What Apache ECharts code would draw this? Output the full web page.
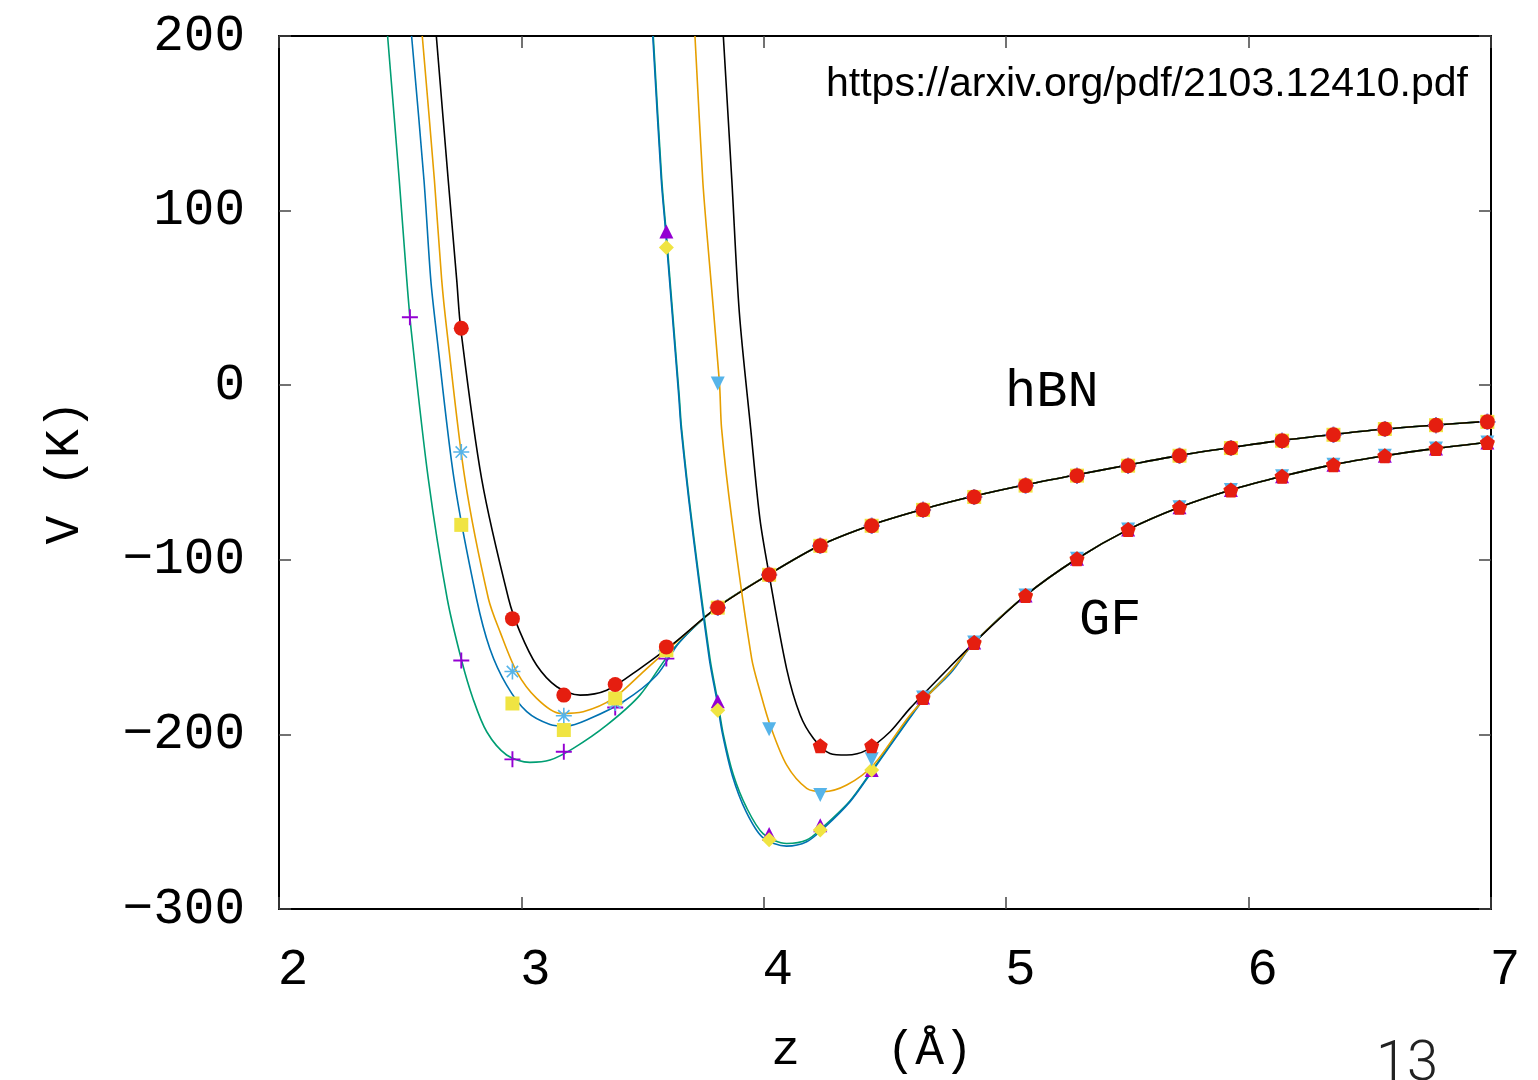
<!DOCTYPE html>
<html>
<head>
<meta charset="utf-8">
<script src="https://cdn.jsdelivr.net/npm/echarts@6/dist/echarts.min.js"></script>
<style>
  html, body { margin: 0; padding: 0; background: #fff; }
  #main { width: 1538px; height: 1080px; }
</style>
</head>
<body>
<div id="main"></div>
<script>
// z positions of the computed points (Å)
var zPts = [2.540, 2.752, 2.963, 3.175, 3.387, 3.598, 3.810, 4.022, 4.233, 4.445, 4.657,
            4.868, 5.080, 5.292, 5.503, 5.715, 5.927, 6.138, 6.350, 6.562, 6.773, 6.985];

// hBN points (K)
var hbnTailPts = [-127.4, -108.6, -92, -80.5, -71.4, -64, -57.5, -51.8, -46.1, -40.4, -36, -31.8, -28.4, -25.1, -22.9, -21];
var hbnPlus   = [38.9, -157.7, -214.3, -209.9, -184.6, -156.6].concat(hbnTailPts);
var hbnStar   = [null, -38.3, -164, -189.3, -182, -152].concat(hbnTailPts);
var hbnSquare = [null, -80, -182.3, -197.5, -179.4, -151.8].concat(hbnTailPts);
var hbnCircle = [null, 32.6, -133.7, -177.5, -171.4, -149.9].concat(hbnTailPts);

// GF points (K)
var gfTailPts = [-178.9, -147.4, -120.4, -99.4, -82.7, -69.9, -60, -52.2, -45.5, -40.4, -36.2, -32.8];
var gfTriUp    = [null, null, null, null, null, 88, -181, -257, -252, -220.4].concat(gfTailPts);
var gfDiamond  = [null, null, null, null, null, 78.9, -186.1, -260.4, -254.7, -220.4].concat(gfTailPts);
var gfTriDown  = [null, null, null, null, null, null, 1, -197.1, -234.7, -214.3].concat(gfTailPts);
var gfPentagon = [null, null, null, null, null, null, null, null, -206.5, -206.5].concat(gfTailPts);

// fitted curves, [z, V]
var hbnTailLine = [[3.81, -127], [4.022, -108.3], [4.233, -91.7], [4.445, -80], [4.657, -71], [4.868, -63.5],
  [5.08, -57], [5.292, -51.3], [5.503, -45.7], [5.715, -40.2], [5.927, -35.7], [6.138, -31.6],
  [6.35, -28.2], [6.562, -25.1], [6.773, -22.8], [7.0, -20.6]];
var hbnGreen = [[2.448, 200], [2.496, 117.7], [2.527, 60.6], [2.545, 32], [2.616, -53.7], [2.694, -122.3],
  [2.754, -158], [2.80, -179.4], [2.857, -198.5], [2.939, -211.8], [3.035, -216], [3.118, -214.7],
  [3.214, -208], [3.352, -194.7], [3.489, -177.5], [3.627, -150.9]];
var hbnBlue = [[2.547, 200], [2.598, 117.7], [2.626, 60.6], [2.648, 32], [2.722, -53.7], [2.815, -122.3],
  [2.870, -150.9], [2.939, -171.8], [3.022, -187], [3.118, -194.3], [3.187, -195.2], [3.283, -190.9],
  [3.420, -181.3], [3.558, -166.1], [3.654, -146.9]];
var hbnOrange = [[2.591, 200], [2.641, 117.7], [2.671, 60.6], [2.692, 32], [2.767, -53.7], [2.864, -122.3],
  [2.912, -141.3], [2.981, -164.2], [3.063, -179.4], [3.160, -188], [3.255, -187], [3.379, -179.4],
  [3.517, -162.3], [3.640, -147]];
var hbnBlack = [[2.649, 200], [2.698, 117.7], [2.733, 60.6], [2.75, 32], [2.836, -53.7], [2.947, -122.3],
  [2.994, -141.3], [3.063, -160.4], [3.146, -172.7], [3.242, -177.5], [3.352, -174.7], [3.489, -162.3],
  [3.627, -148]];

var gfTailLine = [[4.868, -147.4], [5.08, -120.4], [5.292, -99.4], [5.503, -82.7], [5.715, -69.9],
  [5.927, -60], [6.138, -52.2], [6.35, -45.5], [6.562, -40.4], [6.773, -36.2], [7.0, -32.5]];
var gfGreen = [[3.544, 200], [3.579, 117.7], [3.597, 88], [3.651, -6], [3.661, -25], [3.702, -76.6],
  [3.778, -156.6], [3.810, -181], [3.833, -200], [3.874, -223], [3.929, -242], [3.998, -257], [4.094, -262.5],
  [4.177, -260.5], [4.245, -253], [4.356, -238], [4.445, -221], [4.603, -190], [4.657, -180], [4.77, -164]];
var gfBlue = [[3.542, 200], [3.577, 117.7], [3.595, 88], [3.649, -6], [3.659, -25], [3.700, -76.6],
  [3.775, -156.6], [3.807, -181], [3.830, -200], [3.871, -224], [3.926, -244], [3.995, -259], [4.094, -264],
  [4.177, -261.5], [4.245, -254], [4.356, -238.5], [4.445, -221.5], [4.603, -190.5], [4.657, -180.5], [4.77, -165]];
var gfOrange = [[3.716, 200], [3.748, 117.7], [3.764, 89], [3.817, 1.5], [3.826, -25], [3.868, -76.6],
  [3.950, -156.6], [3.985, -175.6], [4.026, -194.7], [4.094, -217.5], [4.177, -230.9], [4.245, -232.8],
  [4.342, -229], [4.452, -217.5], [4.603, -189], [4.77, -164]];
var gfBlack = [[3.833, 200], [3.868, 117.7], [3.899, 41.7], [3.946, -25], [3.984, -76.6], [4.022, -108.5],
  [4.094, -162.3], [4.150, -188.9], [4.205, -202.3], [4.273, -210.9], [4.342, -211.8], [4.424, -209],
  [4.521, -198.5], [4.603, -185.1], [4.77, -161]];

var xTicks = [2, 7, 1];
var yTicks = [-300, 200, 100];

var myChart = echarts.init(document.getElementById('main'));

const mono = 'Liberation Mono';
const symbols = {
  plus: 'path://M-1,-0.12 L1,-0.12 L1,0.12 L-1,0.12 Z M-0.12,-1 L0.12,-1 L0.12,1 L-0.12,1 Z',
  star: 'path://M-1,-0.1 L1,-0.1 L1,0.1 L-1,0.1 Z M-0.1,-1 L0.1,-1 L0.1,1 L-0.1,1 Z ' +
        'M-0.778,-0.636 L-0.636,-0.778 L0.778,0.636 L0.636,0.778 Z ' +
        'M-0.636,0.778 L-0.778,0.636 L0.636,-0.778 L0.778,-0.636 Z',
  pentagon: 'path://M0,-1 L0.951,-0.309 L0.588,0.809 L-0.588,0.809 L-0.951,-0.309 Z'
};

function pts(ys) {
  var out = [];
  for (var i = 0; i < zPts.length; i++) {
    if (ys[i] !== null) out.push([zPts[i], ys[i]]);
  }
  return out;
}

function curve(data, color) {
  return {
    type: 'line', data: data, showSymbol: false, smooth: 0.3, clip: true, z: 2,
    lineStyle: { color: color, width: 1.6 }
  };
}

function marks(data, symbol, size, color, rotate) {
  return {
    type: 'scatter', data: pts(data), symbol: symbol, symbolSize: size,
    symbolRotate: rotate || 0, clip: true, z: 3,
    itemStyle: { color: color, opacity: 1 }
  };
}

function minus(v) { return String(v).replace('-', '\u2212'); }

var option = {
  animation: false,
  backgroundColor: '#fff',
  grid: { left: 279, right: 47, top: 36, bottom: 169 },
  xAxis: [
    {
      type: 'value', min: xTicks[0], max: xTicks[1], interval: xTicks[2],
      name: 'z   (\u00c5)', nameLocation: 'middle', nameGap: 118,
      nameTextStyle: { fontFamily: mono, fontSize: 48, color: '#000', padding: [0, 26, 0, 0] },
      axisLine: { show: true, onZero: false, lineStyle: { color: '#000', width: 2 } },
      axisTick: { inside: true, length: 12, lineStyle: { color: '#444', width: 1.5 } },
      axisLabel: { fontFamily: mono, fontSize: 51, color: '#000', margin: 36, padding: [0, 0, 0, 28] },
      splitLine: { show: false }
    },
    {
      type: 'value', position: 'top', min: xTicks[0], max: xTicks[1], interval: xTicks[2],
      axisLine: { show: true, onZero: false, lineStyle: { color: '#000', width: 2 } },
      axisTick: { inside: true, length: 12, lineStyle: { color: '#444', width: 1.5 } },
      axisLabel: { show: false },
      splitLine: { show: false }
    }
  ],
  yAxis: [
    {
      type: 'value', min: yTicks[0], max: yTicks[1], interval: yTicks[2],
      name: 'V (K)', nameLocation: 'middle', nameGap: 190, nameRotate: 90,
      nameTextStyle: { fontFamily: mono, fontSize: 48, color: '#000' },
      axisLine: { show: true, onZero: false, lineStyle: { color: '#000', width: 2 } },
      axisTick: { inside: true, length: 12, lineStyle: { color: '#444', width: 1.5 } },
      axisLabel: { fontFamily: mono, fontSize: 51, color: '#000', margin: 34, padding: [6, 0, 0, 0], formatter: minus },
      splitLine: { show: false }
    },
    {
      type: 'value', position: 'right', min: yTicks[0], max: yTicks[1], interval: yTicks[2],
      axisLine: { show: true, onZero: false, lineStyle: { color: '#000', width: 2 } },
      axisTick: { inside: true, length: 12, lineStyle: { color: '#444', width: 1.5 } },
      axisLabel: { show: false },
      splitLine: { show: false }
    }
  ],
  graphic: [
    { type: 'text', left: 1005, top: 366, style: { text: 'hBN', fontFamily: mono, fontSize: 52, fill: '#000' } },
    { type: 'text', left: 1079, top: 594, style: { text: 'GF', fontFamily: mono, fontSize: 52, fill: '#000' } },
    { type: 'text', right: 70, top: 64, style: { text: 'https://arxiv.org/pdf/2103.12410.pdf', fontFamily: 'Liberation Sans', fontSize: 41, fill: '#000' } },
    { type: 'text', left: 1376, top: 1038, style: { text: '13', fontFamily: 'Roboto', fontWeight: 300, fontSize: 56, fill: '#222' } }
  ],
  series: [
    curve(hbnGreen.concat(hbnTailLine), '#009e73'),
    curve(hbnBlue.concat(hbnTailLine), '#0072b2'),
    curve(hbnOrange.concat(hbnTailLine), '#e69f00'),
    curve(hbnBlack.concat(hbnTailLine), '#000000'),
    curve(gfGreen.concat(gfTailLine), '#009e73'),
    curve(gfBlue.concat(gfTailLine), '#0072b2'),
    curve(gfOrange.concat(gfTailLine), '#e69f00'),
    curve(gfBlack.concat(gfTailLine), '#000000'),
    marks(hbnPlus, symbols.plus, 16, '#9400d3'),
    marks(hbnStar, symbols.star, 16, '#56b4e9'),
    marks(hbnSquare, 'rect', 14, '#f0e442'),
    marks(hbnCircle, 'circle', 15, '#e51e10'),
    marks(gfTriUp, 'triangle', 14, '#9400d3'),
    marks(gfDiamond, 'diamond', 15, '#f0e442'),
    marks(gfTriDown, 'triangle', 14, '#56b4e9', 180),
    marks(gfPentagon, symbols.pentagon, 15, '#e51e10')
  ]
};
myChart.setOption(option);
</script>
</body>
</html>
